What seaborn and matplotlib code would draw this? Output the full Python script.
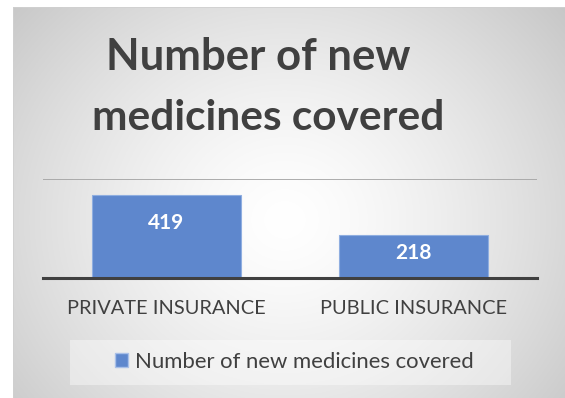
import numpy as np
import pandas as pd
import matplotlib
matplotlib.use("Agg")
import matplotlib.pyplot as plt
import seaborn as sns
from matplotlib.patches import Rectangle, Patch

categories = ["PRIVATE INSURANCE", "PUBLIC INSURANCE"]
values = [419, 218]
series_name = "Number of new medicines covered"
title_lines = ["Number of new", "medicines covered"]

sns.set_theme(style="white")
FONT = ["Lato", "DejaVu Sans"]
plt.rcParams["font.family"] = FONT

W, H = 565, 398
fig = plt.figure(figsize=(W / 100, H / 100), dpi=100)
fig.patch.set_facecolor("white")

def fx(px):
    return px / W

def fy(py):
    return 1 - py / H

# background radial gradient panel
x0, y0 = 13, 7
bg = fig.add_axes([fx(x0), 0, 1 - fx(x0), fy(y0)])
gx = np.linspace(x0, W, 400)
gy = np.linspace(y0, H, 300)
XX, YY = np.meshgrid(gx, gy)
cx, cy = 285, 220
r = np.sqrt(((XX - cx) / 330) ** 2 + ((YY - cy) / 300) ** 2)
v = 1 - 0.19 * np.clip(r, 0, 1.3) ** 1.4
bg.imshow(np.dstack([v, v, v]), aspect="auto", extent=[0, 1, 0, 1], origin="upper")
bg.set_xlim(0, 1)
bg.set_ylim(0, 1)
bg.axis("off")
fig.add_artist(Rectangle((fx(x0), 0), 1 - fx(x0), fy(y0), transform=fig.transFigure,
                         fill=False, edgecolor="#d0d0d0", linewidth=0.6))

# legend box
fig.add_artist(Rectangle((fx(70), fy(385)), fx(511) - fx(70), fy(340) - fy(385),
                         transform=fig.transFigure, facecolor="white", alpha=0.4,
                         edgecolor="none"))

# main axes
left, right, bottom, top = 43, 537, 278, 179
ax = fig.add_axes([fx(left), fy(bottom), fx(right) - fx(left), fy(top) - fy(bottom)])
ax.patch.set_alpha(0)
df = pd.DataFrame({"category": categories, "value": values})
bar_color = "#5E87CD"
sns.barplot(data=df, x="category", y="value", color=bar_color, width=0.6,
            saturation=1, ax=ax, edgecolor="#8FAEE0", linewidth=0.8, zorder=3)
ax.set_ylim(0, 500)
ax.set_xlim(-0.5, 1.5)
ax.set_yticks([500])
ax.set_yticklabels([])
ax.yaxis.grid(True, color="#A6A6A6", linewidth=1.3)
ax.set_axisbelow(True)
for s in ["top", "left", "right"]:
    ax.spines[s].set_visible(False)
ax.spines["bottom"].set_color("#404040")
ax.spines["bottom"].set_linewidth(2.2)
ax.spines["bottom"].set_zorder(4)
ax.set_xlabel("")
ax.set_ylabel("")
ax.tick_params(axis="both", length=0)
ax.tick_params(axis="x", pad=16, labelsize=14.4, labelcolor="#404040")
for lab in ax.get_xticklabels():
    lab.set_family(FONT)

label_offsets_px = [-28, -18]
for i, (val, off) in enumerate(zip(values, label_offsets_px)):
    ax.annotate(str(val), xy=(i, val), xytext=(0, off * 0.72), textcoords="offset points",
                ha="center", va="center", color="white", fontsize=15,
                fontweight="bold", family=FONT)

# title
fig.text(fx(258), fy(70), title_lines[0], ha="center", va="baseline",
         fontsize=31.5, fontweight="bold", color="#404040", family=FONT)
fig.text(fx(268), fy(130), title_lines[1], ha="center", va="baseline",
         fontsize=30.5, fontweight="bold", color="#404040", family=FONT)

# legend
handle = Patch(facecolor=bar_color, edgecolor="#A9C0E8", linewidth=1.0)
fig.legend([handle], [series_name], loc="center", bbox_to_anchor=(fx(294), fy(362)),
           frameon=False, handlelength=0.6, handleheight=0.6,
           handletextpad=0.3, labelcolor="#404040", prop={"family": FONT, "size": 15.9})

fig.savefig("out.png", dpi=100)
